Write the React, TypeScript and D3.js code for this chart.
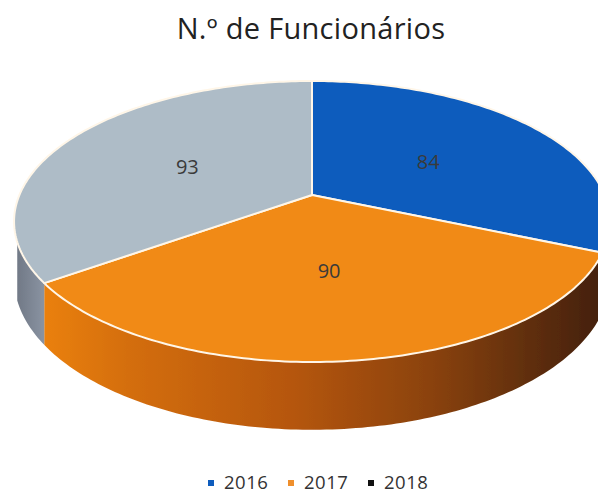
import React from "react";
import * as d3 from "d3";

const title = "N.º de Funcionários";
const years = ["2016", "2017", "2018"];
const employees = [84, 90, 93];
const topColours = ["#0e5cbd", "#f18a12", "#aebcc7"];
const legendColours = ["#0e5cbd", "#ef8f2c", "#111111"];

const width = 598;
const height = 490;

// the pie is a tilted disc, so the near side comes out bigger than the far side
const cx = 312;
const cy = 195;
const rx = 292.6;
const ry = 135.5;
const k = 0.1886;
const depth = 55;

const project = (a: number, r = 1, drop = 0): [number, number] => {
  const X = r * Math.sin(a);
  const Y = -r * Math.cos(a);
  const w = 1 - k * Y;
  return [cx + (rx * X) / w, cy + (ry * Y + drop) / w];
};

const line = d3.line();

const samples = (a0: number, a1: number, drop = 0) => {
  const n = Math.max(2, Math.ceil(Math.abs(a1 - a0) * 60));
  return d3.range(n + 1).map((i) => project(a0 + ((a1 - a0) * i) / n, 1, drop));
};

const slices = d3.pie<number>().sort(null)(employees);

// only the near part of the rim can be seen
const wallStart = (102 * Math.PI) / 180;
const wallEnd = (251 * Math.PI) / 180;

const wallPath = (a0: number, a1: number) => {
  const from = Math.max(a0, wallStart);
  const to = Math.min(a1, wallEnd);
  if (to <= from) return null;
  return line([...samples(from, to), ...samples(to, from, depth)]) + "Z";
};

const topPath = (a0: number, a1: number) =>
  line([project(0, 0), ...samples(a0, a1)]) + "Z";

const wallFills = ["#3d1f08", "url(#wallOrange)", "url(#wallGrey)"];

export default function App() {
  const legendX = d3.scalePoint<string>().domain(years).range([208, 368]);

  return (
    <svg
      width={width}
      height={height}
      style={{ position: "absolute", left: 0, top: 0, background: "#fff" }}
    >
      <defs>
        <linearGradient id="wallOrange" gradientUnits="userSpaceOnUse" x1={45} x2={598} y1={0} y2={0}>
          <stop offset="0" stopColor="#ea8010" />
          <stop offset="0.15" stopColor="#d46e10" />
          <stop offset="0.45" stopColor="#b5560c" />
          <stop offset="0.7" stopColor="#8a420c" />
          <stop offset="0.88" stopColor="#5f2e0a" />
          <stop offset="1" stopColor="#452108" />
        </linearGradient>
        <linearGradient id="wallGrey" gradientUnits="userSpaceOnUse" x1={15} x2={50} y1={0} y2={0}>
          <stop offset="0" stopColor="#6f7784" />
          <stop offset="1" stopColor="#8f99a8" />
        </linearGradient>
        <filter id="scan" x="-5%" y="-5%" width="110%" height="110%">
          <feGaussianBlur stdDeviation="0.5" />
        </filter>
      </defs>

      <text
        x={311}
        y={39}
        textAnchor="middle"
        fontFamily="'Open Sans', sans-serif"
        fontSize={29}
        letterSpacing={0.3}
        fill="#222"
      >
        {title}
      </text>

      <g filter="url(#scan)">
        {slices.map((s, i) => {
          const d = wallPath(s.startAngle, s.endAngle);
          return d ? <path key={years[i]} d={d} fill={wallFills[i]} /> : null;
        })}

        {slices.map((s, i) => (
          <path
            key={years[i]}
            d={topPath(s.startAngle, s.endAngle)}
            fill={topColours[i]}
            stroke="#fff6e8"
            strokeWidth={2}
            strokeLinejoin="round"
          />
        ))}
      </g>

      {slices.map((s, i) => {
        const [x, y] = project((s.startAngle + s.endAngle) / 2, 0.5);
        return (
          <text
            key={years[i]}
            x={x}
            y={y + 2}
            dy="0.35em"
            textAnchor="middle"
            fontFamily="'Open Sans', sans-serif"
            fontSize={20}
            fill="#3a3a3a"
          >
            {s.data}
          </text>
        );
      })}

      {years.map((year, i) => (
        <g key={year} transform={`translate(${legendX(year)},483)`}>
          <rect x={0} y={-3} width={6} height={6} fill={legendColours[i]} />
          <text
            x={16}
            dy="0.35em"
            fontFamily="'Open Sans', sans-serif"
            fontSize={18.5}
            letterSpacing={0.5}
            fill="#333"
          >
            {year}
          </text>
        </g>
      ))}
    </svg>
  );
}
